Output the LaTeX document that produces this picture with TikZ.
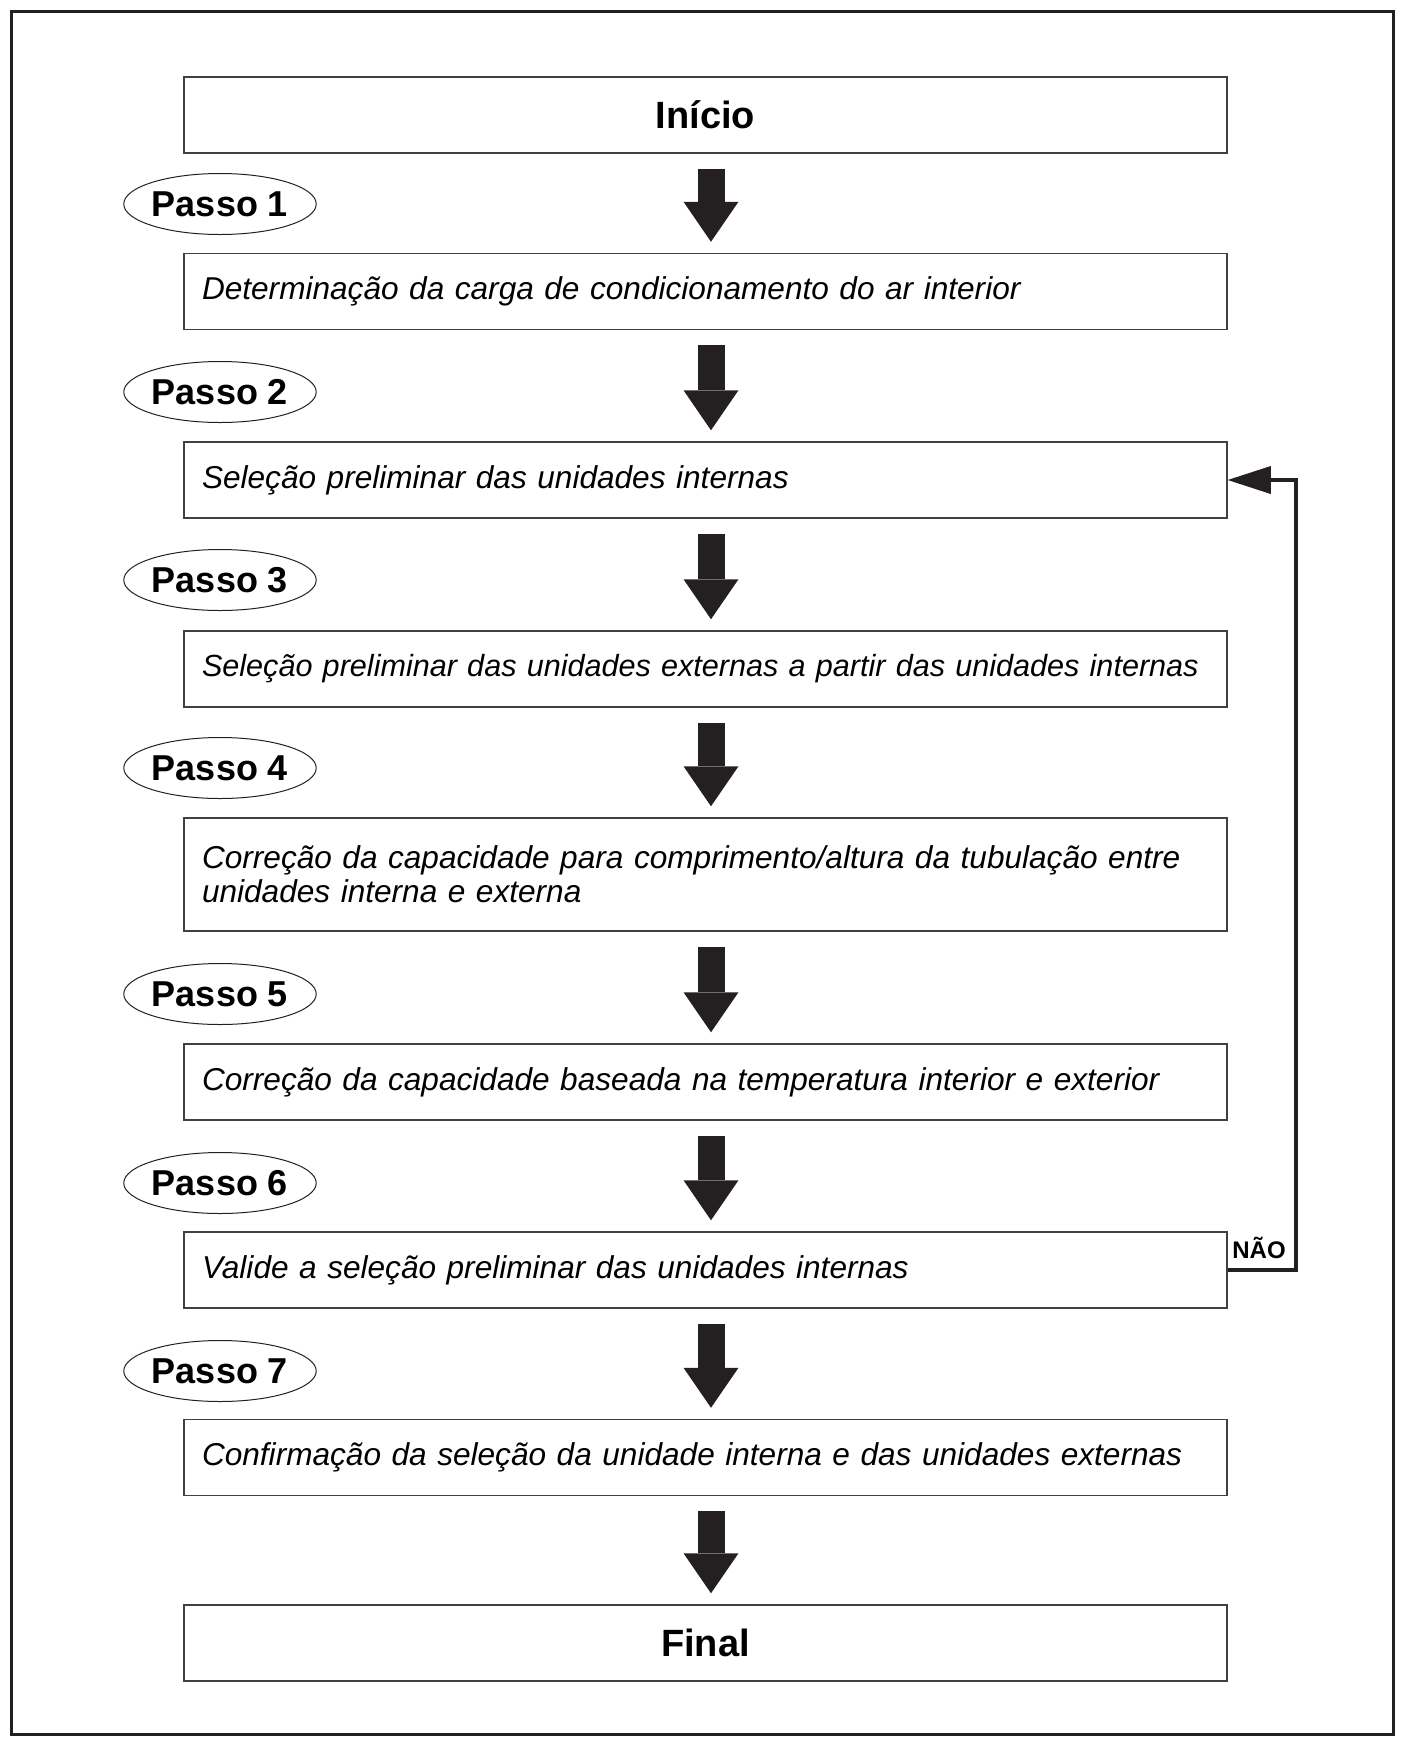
\documentclass[tikz,border=0pt]{standalone}
\usepackage{fontspec}
\setmainfont{Liberation Sans}
\usetikzlibrary{arrows.meta,shapes.geometric}
\definecolor{darkline}{rgb}{0.14,0.12,0.13}
\definecolor{boxline}{rgb}{0.25,0.25,0.25}

\begin{document}
\begin{tikzpicture}[x=0.5pt,y=-0.5pt,
    stepbox/.style={draw=boxline,line width=0.75pt,text width=503.5pt,inner xsep=9pt,
      minimum height=38pt,align=left,font=\itshape\fontsize{15.8}{17}\selectfont},
    endbox/.style={draw=boxline,line width=0.75pt,minimum width=521.5pt,minimum height=38pt,
      font=\bfseries\fontsize{19}{22}\selectfont},
    passo/.style={ellipse,draw=darkline,line width=0.5pt,minimum width=94pt,minimum height=30.5pt,
      inner sep=0pt,font=\bfseries\fontsize{18}{20}\selectfont},
    bigarrow/.style={darkline,line width=13.5pt,shorten <=7.5pt,shorten >=5.5pt,
      -{Triangle[length=20pt,width=27.5pt,line width=0pt]}},
    backline/.style={darkline,line width=2pt,-{Triangle[length=21.5pt,width=14pt,line width=0pt]}}
  ]
  \useasboundingbox (0,0) rectangle (1402,1742);
  % frame
  \draw[darkline,line width=1.5pt] (11,11) rectangle (1393,1734);
  % boxes
  \node[endbox] (inicio) at (705.5,115) {Início};
  \node[stepbox] (s1) at (705.5,291.5) {Determinação da carga de condicionamento do ar interior};
  \node[stepbox] (s2) at (705.5,480) {Seleção preliminar das unidades internas};
  \node[stepbox,font=\itshape\fontsize{15.3}{17}\selectfont] (s3) at (705.5,669) {Seleção preliminar das unidades externas a partir das unidades internas};
  \node[stepbox,minimum height=56.5pt] (s4) at (705.5,874.5) {Correção da capacidade para comprimento/altura da tubulação entre\\unidades interna e externa};
  \node[stepbox] (s5) at (705.5,1082) {Correção da capacidade baseada na temperatura interior e exterior};
  \node[stepbox] (s6) at (705.5,1270) {Valide a seleção preliminar das unidades internas};
  \node[stepbox] (s7) at (705.5,1457.5) {Confirmação da seleção da unidade interna e das unidades externas};
  \node[endbox] (final) at (705.5,1643) {Final};
  % steps
  \foreach \n/\y in {1/204,2/392,3/580,4/768,5/994,6/1183,7/1371}
    \node[passo] (p\n) at (220,\y) {Passo \n};
  % arrows
  \foreach \a/\b in {inicio/s1,s1/s2,s2/s3,s3/s4,s4/s5,s5/s6,s6/s7,s7/final}
    \draw[bigarrow] ([xshift=2.75pt]\a.south) -- ([xshift=2.75pt]\b.north);
  % loop back
  \draw[backline] (s6.east) -- ++(68,0) |- (s2.east);
  \node[font=\bfseries\fontsize{12}{14}\selectfont] (nao) at (1259,1248) {NÃO};
\end{tikzpicture}
\end{document}
